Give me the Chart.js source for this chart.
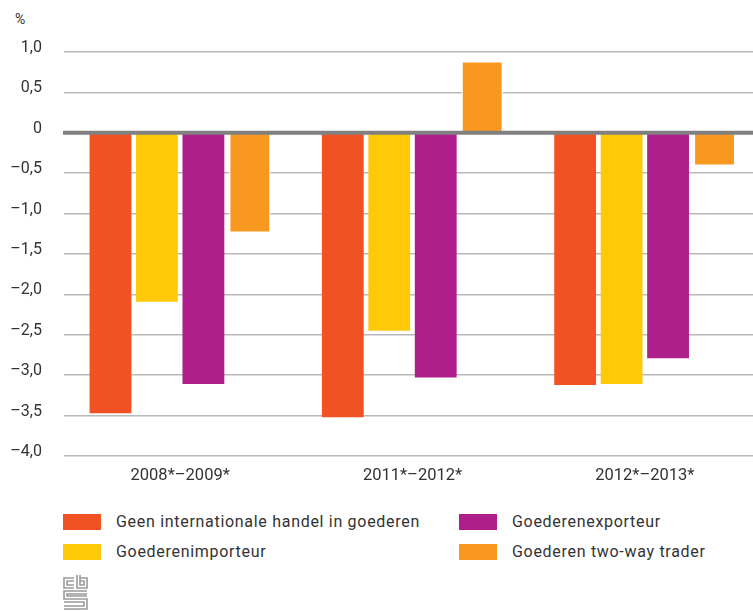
<!DOCTYPE html>
<html lang="nl">
<head>
<meta charset="utf-8">
<script src="https://cdn.jsdelivr.net/npm/chart.js@4.4.1/dist/chart.umd.min.js"></script>
<style>
  html, body { margin: 0; padding: 0; background: #fff; overflow: hidden; width: 753px; height: 611px; }
  body { position: relative; font-family: Roboto, "Open Sans", sans-serif; color: #333; }
  #wrap { position: absolute; left: 0; top: 0; width: 770px; height: 500px; }
  #unit { position: absolute; left: 15px; top: 11px; font-size: 14px; color: #333; }
  .legend { position: absolute; font-family: Roboto, "Open Sans", sans-serif; font-size: 16px; letter-spacing: 0.7px; color: #333; line-height: 16px; }
  .legend .sw { position: absolute; width: 38px; height: 16px; }
  .legend .tx { position: absolute; white-space: nowrap; }
  #logo { position: absolute; left: 62px; top: 575px; }
</style>
</head>
<body>
<div id="unit">%</div>
<div id="wrap"><canvas id="chart"></canvas></div>
<div id="legend"></div>
<svg id="logo" width="28" height="36" viewBox="0 0 28 36" fill="none" stroke="#9a9a9a" stroke-width="1.6">
  <!-- c -->
  <path d="M12 3 H2 V13 H12"/>
  <path d="M12 6 H5 V10 H12"/>
  <!-- b -->
  <path d="M15 0 V13 H25 V3 H18"/>
  <path d="M18 0 V10 H22 V6 H18"/>
  <!-- s -->
  <path d="M25 16 H2 V24 H25 V34 H2"/>
  <path d="M25 19 H5 V21 H25"/>
  <path d="M2 27 H22 V31 H2"/>
</svg>
<script>
// Periods on the category axis
const categories = ['2008*–2009*', '2011*–2012*', '2012*–2013*'];

// Change per trader group, in %
const geenHandel = [-3.47, -3.52, -3.12];
const importeur = [-2.09, -2.45, -3.11];
const exporteur = [-3.11, -3.03, -2.79];
const twoWay = [-1.24, 0.89, -0.41];

const seriesNames = [
  'Geen internationale handel in goederen',
  'Goederenimporteur',
  'Goederenexporteur',
  'Goederen two-way trader'
];
const seriesColors = ['#f15224', '#ffc90a', '#af1f8c', '#f8981e'];

// Y axis range and step
const yMin = -4;
const yMax = 1;
const yStep = 0.5;

function fmt(v) {
  if (Math.abs(v) < 1e-9) return '0';
  const s = Math.abs(v).toFixed(1).replace('.', ',');
  return v < 0 ? '–' + s : s;
}

// Thick grey baseline at zero, drawn over the bars
const zeroLine = {
  id: 'zeroLine',
  afterDatasetsDraw(chart) {
    const y = chart.scales.y.getPixelForValue(0);
    const ctx = chart.ctx;
    ctx.save();
    ctx.strokeStyle = '#808080';
    ctx.lineWidth = 4;
    ctx.beginPath();
    ctx.moveTo(chart.chartArea.left - 1, y);
    ctx.lineTo(chart.chartArea.right, y);
    ctx.stroke();
    ctx.restore();
  }
};

const dataArrays = [geenHandel, importeur, exporteur, twoWay];
const datasets = dataArrays.map((d, i) => ({
  label: seriesNames[i],
  data: d,
  backgroundColor: seriesColors[i],
  borderColor: '#ffffff',
  borderWidth: i === 3 ? 1.5 : 0,
  borderSkipped: 'start',
  barPercentage: 0.9,
  categoryPercentage: 0.8
}));

new Chart(document.getElementById('chart'), {
  type: 'bar',
  data: { labels: categories, datasets },
  options: {
    responsive: true,
    maintainAspectRatio: false,
    animation: false,
    layout: { padding: { top: 52, right: 9, bottom: 0, left: 0 } },
    plugins: { legend: { display: false }, tooltip: { enabled: false } },
    scales: {
      x: {
        grid: { display: false, drawTicks: false },
        border: { display: false },
        ticks: { color: '#333', font: { family: 'Roboto', size: 16.5 }, padding: 10, maxRotation: 0 },
        afterFit(scale) { scale.height = 44; }
      },
      y: {
        min: yMin,
        max: yMax,
        grid: {
          color: (ctx) => (ctx.tick && ctx.tick.value === 0 ? 'rgba(0,0,0,0)' : '#b9b9b9'),
          lineWidth: 1.5,
          drawTicks: false
        },
        border: { display: false },
        ticks: {
          stepSize: yStep,
          color: '#333',
          font: { family: 'Roboto', size: 16 },
          padding: 22,
          labelOffset: -4,
          callback: (v) => fmt(v)
        },
        afterFit(scale) { scale.width = 64; }
      }
    }
  },
  plugins: [zeroLine]
});

// Legend in two columns below the chart
const legendPos = [
  { x: 63, y: 514 },
  { x: 63, y: 544 },
  { x: 459, y: 514 },
  { x: 459, y: 544 }
];
const legendEl = document.getElementById('legend');
seriesNames.forEach((name, i) => {
  const item = document.createElement('div');
  item.className = 'legend';
  item.style.left = legendPos[i].x + 'px';
  item.style.top = legendPos[i].y + 'px';
  const sw = document.createElement('div');
  sw.className = 'sw';
  sw.style.left = '0px';
  sw.style.top = '0px';
  sw.style.background = seriesColors[i];
  const tx = document.createElement('div');
  tx.className = 'tx';
  tx.style.left = '53px';
  tx.style.top = '0px';
  tx.textContent = name;
  item.appendChild(sw);
  item.appendChild(tx);
  legendEl.appendChild(item);
});
</script>
</body>
</html>
